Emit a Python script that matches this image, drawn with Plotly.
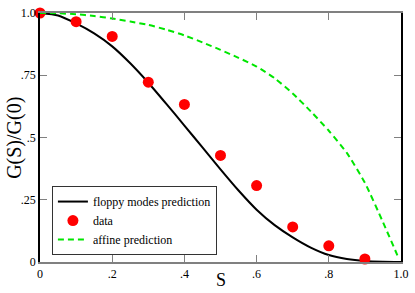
import plotly.graph_objects as go

# data points
data_s = [0.0, 0.1, 0.2, 0.3, 0.4, 0.5, 0.6, 0.7, 0.8, 0.9]
data_g = [1.0, 0.965, 0.906, 0.722, 0.633, 0.428, 0.307, 0.141, 0.065, 0.012]

# floppy modes prediction
floppy_s = [0.0, 0.05, 0.1, 0.15, 0.2, 0.25, 0.3, 0.35, 0.4, 0.45, 0.5, 0.55, 0.6, 0.65, 0.7, 0.75, 0.8, 0.85, 0.9, 0.95, 1.0]
floppy_g = [1.0, 0.99, 0.958, 0.918, 0.866, 0.798, 0.72, 0.635, 0.548, 0.46, 0.372, 0.287, 0.21, 0.148, 0.099, 0.058, 0.028, 0.012, 0.004, 0.001, 0.0]

# affine prediction
affine_s = [0.0, 0.05, 0.1, 0.15, 0.2, 0.25, 0.3, 0.35, 0.4, 0.45, 0.5, 0.55, 0.6, 0.65, 0.7, 0.75, 0.8, 0.85, 0.9, 0.95, 0.99]
affine_g = [1.0, 0.999, 0.995, 0.988, 0.978, 0.966, 0.952, 0.933, 0.91, 0.882, 0.852, 0.82, 0.785, 0.738, 0.677, 0.605, 0.527, 0.438, 0.318, 0.16, 0.027]

x_ticks = [0, 0.2, 0.4, 0.6, 0.8, 1.0]
x_tick_labels = ["0", ".2", ".4", ".6", ".8", "1.0"]
y_ticks = [0, 0.25, 0.5, 0.75, 1.0]
y_tick_labels = ["0", ".25", ".5", ".75", "1.0"]

serif = "Liberation Serif, Times New Roman, serif"

fig = go.Figure()
fig.add_trace(go.Scatter(x=floppy_s, y=floppy_g, mode="lines", name="floppy modes prediction",
                         line=dict(color="black", width=2, shape="spline", smoothing=0.6)))
fig.add_trace(go.Scatter(x=data_s, y=data_g, mode="markers", name="data",
                         marker=dict(color="#ff0000", size=11), cliponaxis=False))
fig.add_trace(go.Scatter(x=affine_s, y=affine_g, mode="lines", name="affine prediction",
                         line=dict(color="#00e600", width=2, dash="6px,4px", shape="spline", smoothing=0.6)))

fig.update_layout(
    width=415, height=293,
    margin=dict(l=40, r=9, t=6, b=31),
    paper_bgcolor="white", plot_bgcolor="white",
    font=dict(family=serif, size=12, color="black"),
    showlegend=True,
    legend=dict(x=0.033, y=0.305, xanchor="left", yanchor="top",
                bordercolor="#333333", borderwidth=1, bgcolor="white",
                font=dict(family=serif, size=12), tracegroupgap=0,
                itemwidth=30),
    xaxis=dict(range=[0, 1], tickvals=x_ticks, ticktext=x_tick_labels,
               ticks="inside", ticklen=7, tickcolor="#808080",
               tickfont=dict(family=serif, size=12),
               showline=True, linecolor="#808080", linewidth=1.5, mirror="ticks",
               showgrid=False, zeroline=False),
    yaxis=dict(range=[0, 1], tickvals=y_ticks, ticktext=y_tick_labels,
               ticks="inside", ticklen=7, tickcolor="#808080",
               tickfont=dict(family=serif, size=12),
               showline=True, linecolor="black", linewidth=1.5, mirror="ticks",
               showgrid=False, zeroline=False),
    annotations=[
        dict(text="S", xref="paper", yref="paper", x=0.502, y=-0.074,
             xanchor="center", yanchor="middle", showarrow=False,
             font=dict(family=serif, size=18)),
        dict(text="G(S)/G(0)", xref="paper", yref="paper", x=-0.071, y=0.5,
             xanchor="center", yanchor="middle", showarrow=False, textangle=-90,
             font=dict(family=serif, size=20)),
    ],
)

fig.write_html("out.html", config={"displayModeBar": False},
               post_script="document.body.style.margin='0';")
